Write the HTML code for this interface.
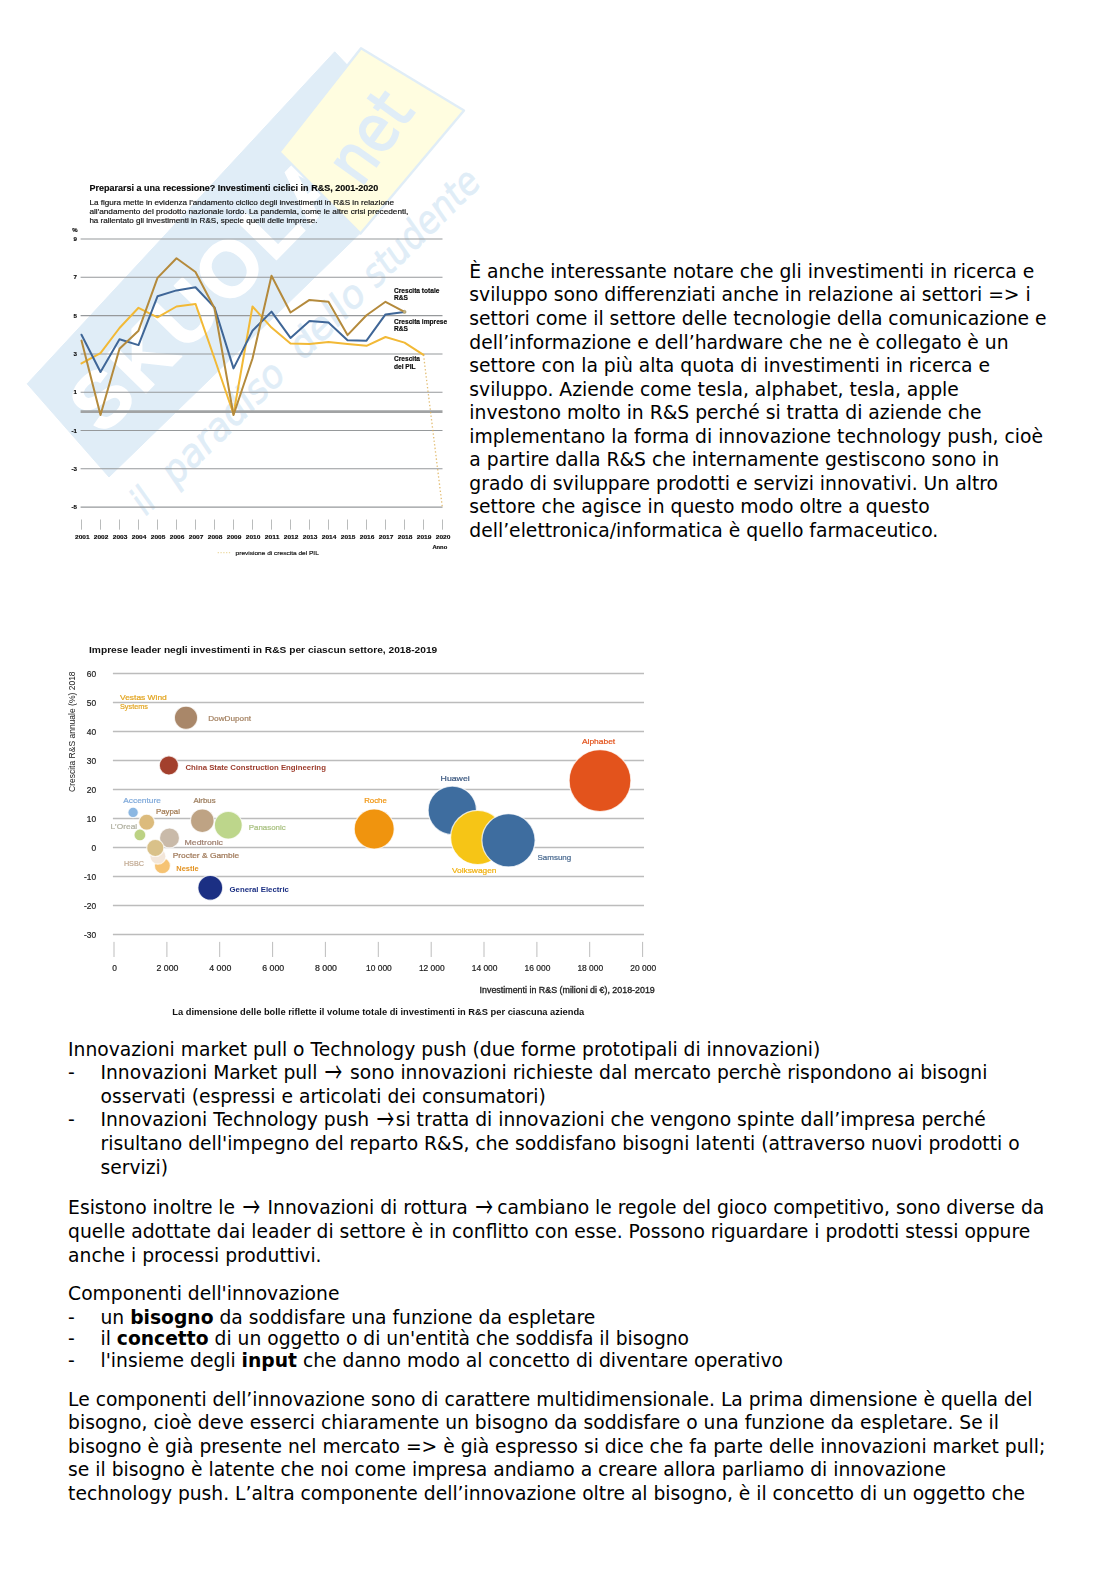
<!DOCTYPE html>
<html lang="it"><head><meta charset="utf-8"><title>Innovazione</title>
<style>
html,body{margin:0;padding:0;background:#fff}
body{width:1116px;height:1579px;position:relative;overflow:hidden;font-family:"DejaVu Sans","Liberation Sans",sans-serif;color:#000}
.l{position:absolute;white-space:nowrap;font-size:18.72px;line-height:24.0px;height:24.0px;letter-spacing:0}
.l b{font-weight:bold}
.ar{font-family:"Noto Sans CJK JP","DejaVu Sans",sans-serif;display:inline-block;width:20.6px;text-align:center;font-size:21px;line-height:0;transform:translate(-0.1px,0.7px) scale(0.83,1.36)}
svg{position:absolute;left:0;top:0}
#charts .sh{filter:blur(0.15px)}
#charts .tx{filter:blur(0.4px)}
</style></head><body>
<svg id="wm" width="1116" height="1579" viewBox="0 0 1116 1579">
<polygon points='27.2,383.8 334.7,51.8 352,70 372,150 362,231.5 109,477' fill='#e0edf7' stroke='#e0edf7' stroke-width='1' stroke-linejoin='round'/>
<g transform='translate(27.2,383.8) rotate(-45.6)'><text x='15' y='91' font-size='79' textLength='352' lengthAdjust='spacing' style='font-family:"Liberation Sans",sans-serif;font-weight:bold;fill:#fff;stroke:#fff;stroke-width:1.5;stroke-linejoin:round'>SKUOLA</text></g>
<polygon points='279.5,152 361,48.3 464,110.5 360.5,233.5' fill='#fffde0' stroke='#e0edf7' stroke-width='2.4' stroke-linejoin='round'/>
<g transform='translate(361,188) rotate(-54.5)'><text x='0' y='0' font-size='66' textLength='94' lengthAdjust='spacingAndGlyphs' style='font-family:"DejaVu Sans",sans-serif;fill:#e0edf7;stroke:#e0edf7;stroke-width:1.8'>net</text></g>
<g transform='translate(138,524) rotate(-44.6)' font-size='38' style='font-family:"DejaVu Sans",sans-serif;font-style:oblique;fill:#e0edf7;stroke:#e0edf7;stroke-width:0.7'><text x='11' y='0' textLength='17' lengthAdjust='spacingAndGlyphs'>il</text><text x='53' y='0' textLength='157' lengthAdjust='spacingAndGlyphs'>paradiso</text><text x='232' y='0' textLength='92' lengthAdjust='spacingAndGlyphs'>dello</text><text x='335' y='0' textLength='149' lengthAdjust='spacingAndGlyphs'>studente</text></g>
</svg>
<svg id="charts" width="1116" height="1579" viewBox="0 0 1116 1579">
<g id="chart1">
<g class="sh">
<line x1='80.6' x2='442.5' y1='239.0' y2='239.0' stroke='#96999b' stroke-width='1.05'/>
<line x1='80.6' x2='442.5' y1='277.2' y2='277.2' stroke='#96999b' stroke-width='1.05'/>
<line x1='80.6' x2='442.5' y1='315.6' y2='315.6' stroke='#96999b' stroke-width='1.05'/>
<line x1='80.6' x2='442.5' y1='353.9' y2='353.9' stroke='#96999b' stroke-width='1.05'/>
<line x1='80.6' x2='442.5' y1='392.2' y2='392.2' stroke='#96999b' stroke-width='1.05'/>
<line x1='80.6' x2='442.5' y1='430.4' y2='430.4' stroke='#96999b' stroke-width='1.05'/>
<line x1='80.6' x2='442.5' y1='468.8' y2='468.8' stroke='#96999b' stroke-width='1.05'/>
<line x1='80.6' x2='442.5' y1='507.1' y2='507.1' stroke='#96999b' stroke-width='1.05'/>
<line x1='80.6' x2='442.5' y1='411.6' y2='411.6' stroke='#a1a3a4' stroke-width='2.7'/>
<polyline points='81.5,363.4 100.5,353.1 119.5,328.0 138.5,307.8 157.5,317.3 176.5,306.5 195.5,303.9 214.5,358.5 233.5,414.0 252.5,306.5 271.5,327.6 290.5,343.6 309.5,343.9 328.5,342.0 347.5,343.9 366.5,345.8 385.5,337.0 404.5,342.6 423.5,354.8' fill='none' stroke='#f2b936' stroke-width='2.0' stroke-linejoin='round' stroke-linecap='round'/>
<polyline points='81.5,334.7 100.5,372.0 119.5,339.3 138.5,345.1 157.5,296.3 176.5,290.4 195.5,287.2 214.5,307.4 233.5,368.4 252.5,330.7 271.5,311.6 290.5,337.9 309.5,321.0 328.5,322.5 347.5,340.2 366.5,340.7 385.5,314.4 404.5,311.9' fill='none' stroke='#3f6697' stroke-width='2.0' stroke-linejoin='round' stroke-linecap='round'/>
<polyline points='81.5,340.6 100.5,415.0 119.5,348.7 138.5,330.7 157.5,277.9 176.5,258.2 195.5,272.0 214.5,308.3 233.5,415.0 252.5,358.5 271.5,275.8 290.5,312.5 309.5,299.9 328.5,301.8 347.5,335.1 366.5,315.3 385.5,301.8 404.5,311.9' fill='none' stroke='#b48a3c' stroke-width='2.0' stroke-linejoin='round' stroke-linecap='round'/>
<line x1='423.5' y1='354.8' x2='442.3' y2='507' stroke='#dcae52' stroke-opacity='0.8' stroke-width='1.3' stroke-dasharray='1.4 2.2'/>
<circle cx='404.5' cy='311.9' r='1.6' fill='#c9b27a' stroke='#8a8a6a' stroke-width='0.5'/>
<line x1='81.5' x2='81.5' y1='519.5' y2='529.7' stroke='#8c8e8f' stroke-width='0.6'/>
<line x1='100.5' x2='100.5' y1='519.5' y2='529.7' stroke='#8c8e8f' stroke-width='0.6'/>
<line x1='119.5' x2='119.5' y1='519.5' y2='529.7' stroke='#8c8e8f' stroke-width='0.6'/>
<line x1='138.5' x2='138.5' y1='519.5' y2='529.7' stroke='#8c8e8f' stroke-width='0.6'/>
<line x1='157.5' x2='157.5' y1='519.5' y2='529.7' stroke='#8c8e8f' stroke-width='0.6'/>
<line x1='176.5' x2='176.5' y1='519.5' y2='529.7' stroke='#8c8e8f' stroke-width='0.6'/>
<line x1='195.5' x2='195.5' y1='519.5' y2='529.7' stroke='#8c8e8f' stroke-width='0.6'/>
<line x1='214.5' x2='214.5' y1='519.5' y2='529.7' stroke='#8c8e8f' stroke-width='0.6'/>
<line x1='233.5' x2='233.5' y1='519.5' y2='529.7' stroke='#8c8e8f' stroke-width='0.6'/>
<line x1='252.5' x2='252.5' y1='519.5' y2='529.7' stroke='#8c8e8f' stroke-width='0.6'/>
<line x1='271.5' x2='271.5' y1='519.5' y2='529.7' stroke='#8c8e8f' stroke-width='0.6'/>
<line x1='290.5' x2='290.5' y1='519.5' y2='529.7' stroke='#8c8e8f' stroke-width='0.6'/>
<line x1='309.5' x2='309.5' y1='519.5' y2='529.7' stroke='#8c8e8f' stroke-width='0.6'/>
<line x1='328.5' x2='328.5' y1='519.5' y2='529.7' stroke='#8c8e8f' stroke-width='0.6'/>
<line x1='347.5' x2='347.5' y1='519.5' y2='529.7' stroke='#8c8e8f' stroke-width='0.6'/>
<line x1='366.5' x2='366.5' y1='519.5' y2='529.7' stroke='#8c8e8f' stroke-width='0.6'/>
<line x1='385.5' x2='385.5' y1='519.5' y2='529.7' stroke='#8c8e8f' stroke-width='0.6'/>
<line x1='404.5' x2='404.5' y1='519.5' y2='529.7' stroke='#8c8e8f' stroke-width='0.6'/>
<line x1='423.5' x2='423.5' y1='519.5' y2='529.7' stroke='#8c8e8f' stroke-width='0.6'/>
<line x1='442.5' x2='442.5' y1='519.5' y2='529.7' stroke='#8c8e8f' stroke-width='0.6'/>
<line x1='217.7' x2='231.3' y1='552.6' y2='552.6' stroke='#ecd9a0' stroke-width='1.1' stroke-dasharray='1.2 1.6'/>
</g>
<g class="tx">
<text x='89.4' y='191.0' font-size='8.20' text-anchor='start' style='font-family:"Liberation Sans",sans-serif;font-weight:bold;fill:#080808;stroke:#080808;stroke-width:0.15;' textLength='289.0' lengthAdjust='spacingAndGlyphs'>Prepararsi a una recessione? Investimenti ciclici in R&amp;S, 2001-2020</text>
<text x='89.4' y='204.6' font-size='7.30' text-anchor='start' style='font-family:"Liberation Sans",sans-serif;fill:#141414;stroke:#141414;stroke-width:0.18;' textLength='304.6' lengthAdjust='spacingAndGlyphs'>La figura mette in evidenza l'andamento ciclico degli investimenti in R&amp;S in relazione</text>
<text x='89.4' y='213.6' font-size='7.30' text-anchor='start' style='font-family:"Liberation Sans",sans-serif;fill:#141414;stroke:#141414;stroke-width:0.18;' textLength='319.0' lengthAdjust='spacingAndGlyphs'>all'andamento del prodotto nazionale lordo. La pandemia, come le altre crisi precedenti,</text>
<text x='89.4' y='222.5' font-size='7.30' text-anchor='start' style='font-family:"Liberation Sans",sans-serif;fill:#141414;stroke:#141414;stroke-width:0.18;' textLength='228.0' lengthAdjust='spacingAndGlyphs'>ha rallentato gli investimenti in R&amp;S, specie quelli delle imprese.</text>
<text x='72.3' y='231.5' font-size='6.00' text-anchor='start' style='font-family:"Liberation Sans",sans-serif;font-weight:bold;fill:#080808;stroke:#080808;stroke-width:0.15;'>%</text>
<text x='77.0' y='241.2' font-size='6.20' text-anchor='end' style='font-family:"Liberation Sans",sans-serif;font-weight:bold;fill:#080808;stroke:#080808;stroke-width:0.15;'>9</text>
<text x='77.0' y='279.4' font-size='6.20' text-anchor='end' style='font-family:"Liberation Sans",sans-serif;font-weight:bold;fill:#080808;stroke:#080808;stroke-width:0.15;'>7</text>
<text x='77.0' y='317.8' font-size='6.20' text-anchor='end' style='font-family:"Liberation Sans",sans-serif;font-weight:bold;fill:#080808;stroke:#080808;stroke-width:0.15;'>5</text>
<text x='77.0' y='356.1' font-size='6.20' text-anchor='end' style='font-family:"Liberation Sans",sans-serif;font-weight:bold;fill:#080808;stroke:#080808;stroke-width:0.15;'>3</text>
<text x='77.0' y='394.4' font-size='6.20' text-anchor='end' style='font-family:"Liberation Sans",sans-serif;font-weight:bold;fill:#080808;stroke:#080808;stroke-width:0.15;'>1</text>
<text x='77.0' y='432.6' font-size='6.20' text-anchor='end' style='font-family:"Liberation Sans",sans-serif;font-weight:bold;fill:#080808;stroke:#080808;stroke-width:0.15;'>-1</text>
<text x='77.0' y='470.9' font-size='6.20' text-anchor='end' style='font-family:"Liberation Sans",sans-serif;font-weight:bold;fill:#080808;stroke:#080808;stroke-width:0.15;'>-3</text>
<text x='77.0' y='509.2' font-size='6.20' text-anchor='end' style='font-family:"Liberation Sans",sans-serif;font-weight:bold;fill:#080808;stroke:#080808;stroke-width:0.15;'>-5</text>
<text x='82.3' y='539.2' font-size='6.00' text-anchor='middle' style='font-family:"Liberation Sans",sans-serif;font-weight:bold;fill:#080808;stroke:#080808;stroke-width:0.15;' textLength='14.6' lengthAdjust='spacingAndGlyphs'>2001</text>
<text x='101.1' y='539.2' font-size='6.00' text-anchor='middle' style='font-family:"Liberation Sans",sans-serif;font-weight:bold;fill:#080808;stroke:#080808;stroke-width:0.15;' textLength='14.6' lengthAdjust='spacingAndGlyphs'>2002</text>
<text x='120.1' y='539.2' font-size='6.00' text-anchor='middle' style='font-family:"Liberation Sans",sans-serif;font-weight:bold;fill:#080808;stroke:#080808;stroke-width:0.15;' textLength='14.6' lengthAdjust='spacingAndGlyphs'>2003</text>
<text x='139.1' y='539.2' font-size='6.00' text-anchor='middle' style='font-family:"Liberation Sans",sans-serif;font-weight:bold;fill:#080808;stroke:#080808;stroke-width:0.15;' textLength='14.6' lengthAdjust='spacingAndGlyphs'>2004</text>
<text x='158.1' y='539.2' font-size='6.00' text-anchor='middle' style='font-family:"Liberation Sans",sans-serif;font-weight:bold;fill:#080808;stroke:#080808;stroke-width:0.15;' textLength='14.6' lengthAdjust='spacingAndGlyphs'>2005</text>
<text x='177.1' y='539.2' font-size='6.00' text-anchor='middle' style='font-family:"Liberation Sans",sans-serif;font-weight:bold;fill:#080808;stroke:#080808;stroke-width:0.15;' textLength='14.6' lengthAdjust='spacingAndGlyphs'>2006</text>
<text x='196.1' y='539.2' font-size='6.00' text-anchor='middle' style='font-family:"Liberation Sans",sans-serif;font-weight:bold;fill:#080808;stroke:#080808;stroke-width:0.15;' textLength='14.6' lengthAdjust='spacingAndGlyphs'>2007</text>
<text x='215.1' y='539.2' font-size='6.00' text-anchor='middle' style='font-family:"Liberation Sans",sans-serif;font-weight:bold;fill:#080808;stroke:#080808;stroke-width:0.15;' textLength='14.6' lengthAdjust='spacingAndGlyphs'>2008</text>
<text x='234.1' y='539.2' font-size='6.00' text-anchor='middle' style='font-family:"Liberation Sans",sans-serif;font-weight:bold;fill:#080808;stroke:#080808;stroke-width:0.15;' textLength='14.6' lengthAdjust='spacingAndGlyphs'>2009</text>
<text x='253.1' y='539.2' font-size='6.00' text-anchor='middle' style='font-family:"Liberation Sans",sans-serif;font-weight:bold;fill:#080808;stroke:#080808;stroke-width:0.15;' textLength='14.6' lengthAdjust='spacingAndGlyphs'>2010</text>
<text x='272.1' y='539.2' font-size='6.00' text-anchor='middle' style='font-family:"Liberation Sans",sans-serif;font-weight:bold;fill:#080808;stroke:#080808;stroke-width:0.15;' textLength='14.6' lengthAdjust='spacingAndGlyphs'>2011</text>
<text x='291.1' y='539.2' font-size='6.00' text-anchor='middle' style='font-family:"Liberation Sans",sans-serif;font-weight:bold;fill:#080808;stroke:#080808;stroke-width:0.15;' textLength='14.6' lengthAdjust='spacingAndGlyphs'>2012</text>
<text x='310.1' y='539.2' font-size='6.00' text-anchor='middle' style='font-family:"Liberation Sans",sans-serif;font-weight:bold;fill:#080808;stroke:#080808;stroke-width:0.15;' textLength='14.6' lengthAdjust='spacingAndGlyphs'>2013</text>
<text x='329.1' y='539.2' font-size='6.00' text-anchor='middle' style='font-family:"Liberation Sans",sans-serif;font-weight:bold;fill:#080808;stroke:#080808;stroke-width:0.15;' textLength='14.6' lengthAdjust='spacingAndGlyphs'>2014</text>
<text x='348.1' y='539.2' font-size='6.00' text-anchor='middle' style='font-family:"Liberation Sans",sans-serif;font-weight:bold;fill:#080808;stroke:#080808;stroke-width:0.15;' textLength='14.6' lengthAdjust='spacingAndGlyphs'>2015</text>
<text x='367.1' y='539.2' font-size='6.00' text-anchor='middle' style='font-family:"Liberation Sans",sans-serif;font-weight:bold;fill:#080808;stroke:#080808;stroke-width:0.15;' textLength='14.6' lengthAdjust='spacingAndGlyphs'>2016</text>
<text x='386.1' y='539.2' font-size='6.00' text-anchor='middle' style='font-family:"Liberation Sans",sans-serif;font-weight:bold;fill:#080808;stroke:#080808;stroke-width:0.15;' textLength='14.6' lengthAdjust='spacingAndGlyphs'>2017</text>
<text x='405.1' y='539.2' font-size='6.00' text-anchor='middle' style='font-family:"Liberation Sans",sans-serif;font-weight:bold;fill:#080808;stroke:#080808;stroke-width:0.15;' textLength='14.6' lengthAdjust='spacingAndGlyphs'>2018</text>
<text x='424.1' y='539.2' font-size='6.00' text-anchor='middle' style='font-family:"Liberation Sans",sans-serif;font-weight:bold;fill:#080808;stroke:#080808;stroke-width:0.15;' textLength='14.6' lengthAdjust='spacingAndGlyphs'>2019</text>
<text x='443.1' y='539.2' font-size='6.00' text-anchor='middle' style='font-family:"Liberation Sans",sans-serif;font-weight:bold;fill:#080808;stroke:#080808;stroke-width:0.15;' textLength='14.6' lengthAdjust='spacingAndGlyphs'>2020</text>
<text x='447.2' y='548.5' font-size='5.80' text-anchor='end' style='font-family:"Liberation Sans",sans-serif;font-weight:bold;fill:#080808;stroke:#080808;stroke-width:0.15;'>Anno</text>
<text x='235.6' y='555.0' font-size='6.10' text-anchor='start' style='font-family:"Liberation Sans",sans-serif;fill:#141414;stroke:#141414;stroke-width:0.18;' textLength='83.2' lengthAdjust='spacingAndGlyphs'>previsione di crescita del PIL</text>
<text x='394.0' y='293.1' font-size='6.60' text-anchor='start' style='font-family:"Liberation Sans",sans-serif;font-weight:bold;fill:#080808;stroke:#080808;stroke-width:0.15;'>Crescita totale</text>
<text x='394.0' y='300.3' font-size='6.60' text-anchor='start' style='font-family:"Liberation Sans",sans-serif;font-weight:bold;fill:#080808;stroke:#080808;stroke-width:0.15;'>R&amp;S</text>
<text x='394.0' y='323.8' font-size='6.60' text-anchor='start' style='font-family:"Liberation Sans",sans-serif;font-weight:bold;fill:#080808;stroke:#080808;stroke-width:0.15;'>Crescita imprese</text>
<text x='394.0' y='331.0' font-size='6.60' text-anchor='start' style='font-family:"Liberation Sans",sans-serif;font-weight:bold;fill:#080808;stroke:#080808;stroke-width:0.15;'>R&amp;S</text>
<text x='394.0' y='361.4' font-size='6.60' text-anchor='start' style='font-family:"Liberation Sans",sans-serif;font-weight:bold;fill:#080808;stroke:#080808;stroke-width:0.15;'>Crescita</text>
<text x='394.0' y='369.0' font-size='6.60' text-anchor='start' style='font-family:"Liberation Sans",sans-serif;font-weight:bold;fill:#080808;stroke:#080808;stroke-width:0.15;'>del PIL</text>
</g>
</g>
<g id="chart2">
<g class="sh">
<line x1='112.9' x2='644' y1='934.5' y2='934.5' stroke='#bcbcbc' stroke-width='1.3'/>
<line x1='112.9' x2='644' y1='905.5' y2='905.5' stroke='#bcbcbc' stroke-width='1.3'/>
<line x1='112.9' x2='644' y1='876.5' y2='876.5' stroke='#bcbcbc' stroke-width='1.3'/>
<line x1='112.9' x2='644' y1='847.5' y2='847.5' stroke='#bcbcbc' stroke-width='1.3'/>
<line x1='112.9' x2='644' y1='818.5' y2='818.5' stroke='#bcbcbc' stroke-width='1.3'/>
<line x1='112.9' x2='644' y1='789.5' y2='789.5' stroke='#bcbcbc' stroke-width='1.3'/>
<line x1='112.9' x2='644' y1='760.5' y2='760.5' stroke='#bcbcbc' stroke-width='1.3'/>
<line x1='112.9' x2='644' y1='731.5' y2='731.5' stroke='#bcbcbc' stroke-width='1.3'/>
<line x1='112.9' x2='644' y1='702.5' y2='702.5' stroke='#bcbcbc' stroke-width='1.3'/>
<line x1='112.9' x2='644' y1='673.5' y2='673.5' stroke='#bcbcbc' stroke-width='1.3'/>
<line x1='114.0' x2='114.0' y1='941.9' y2='957' stroke='#b5b5b5' stroke-width='0.9'/>
<line x1='166.9' x2='166.9' y1='941.9' y2='957' stroke='#b5b5b5' stroke-width='0.9'/>
<line x1='219.7' x2='219.7' y1='941.9' y2='957' stroke='#b5b5b5' stroke-width='0.9'/>
<line x1='272.6' x2='272.6' y1='941.9' y2='957' stroke='#b5b5b5' stroke-width='0.9'/>
<line x1='325.4' x2='325.4' y1='941.9' y2='957' stroke='#b5b5b5' stroke-width='0.9'/>
<line x1='378.3' x2='378.3' y1='941.9' y2='957' stroke='#b5b5b5' stroke-width='0.9'/>
<line x1='431.2' x2='431.2' y1='941.9' y2='957' stroke='#b5b5b5' stroke-width='0.9'/>
<line x1='484.0' x2='484.0' y1='941.9' y2='957' stroke='#b5b5b5' stroke-width='0.9'/>
<line x1='536.9' x2='536.9' y1='941.9' y2='957' stroke='#b5b5b5' stroke-width='0.9'/>
<line x1='589.7' x2='589.7' y1='941.9' y2='957' stroke='#b5b5b5' stroke-width='0.9'/>
<line x1='642.6' x2='642.6' y1='941.9' y2='957' stroke='#b5b5b5' stroke-width='0.9'/>
<circle cx='186.0' cy='717.8' r='11.6' fill='#a98769' stroke='#fff' stroke-opacity='0.75' stroke-width='1.2'/>
<circle cx='168.9' cy='765.4' r='9.6' fill='#a3402d' stroke='#fff' stroke-opacity='0.75' stroke-width='1.2'/>
<circle cx='133.1' cy='812.4' r='5.2' fill='#8bb7e2' stroke='#fff' stroke-opacity='0.75' stroke-width='1.2'/>
<circle cx='139.9' cy='834.9' r='5.9' fill='#bcd284' stroke='#fff' stroke-opacity='0.75' stroke-width='1.2'/>
<circle cx='146.7' cy='822.2' r='8.0' fill='#dcbb7c' stroke='#fff' stroke-opacity='0.75' stroke-width='1.2'/>
<circle cx='202.3' cy='820.7' r='11.8' fill='#bea384' stroke='#fff' stroke-opacity='0.75' stroke-width='1.2'/>
<circle cx='228.3' cy='825.2' r='13.9' fill='#bdd68b' stroke='#fff' stroke-opacity='0.75' stroke-width='1.2'/>
<circle cx='169.5' cy='837.9' r='10.0' fill='#c9baa9' stroke='#fff' stroke-opacity='0.75' stroke-width='1.2'/>
<circle cx='162.4' cy='865.7' r='8.0' fill='#f6c373' stroke='#fff' stroke-opacity='0.75' stroke-width='1.2'/>
<circle cx='157.9' cy='856.2' r='8.0' fill='#f3e6d9' stroke='#fff' stroke-opacity='0.75' stroke-width='1.2'/>
<circle cx='155.3' cy='847.9' r='8.6' fill='#d9c189' stroke='#fff' stroke-opacity='0.75' stroke-width='1.2'/>
<circle cx='210.3' cy='887.8' r='12.4' fill='#1b2f83' stroke='#fff' stroke-opacity='0.75' stroke-width='1.2'/>
<circle cx='374.2' cy='829.0' r='20.0' fill='#f0940e' stroke='#fff' stroke-opacity='0.75' stroke-width='1.2'/>
<circle cx='452.3' cy='810.3' r='24.2' fill='#3e6d9f' stroke='#fff' stroke-opacity='0.75' stroke-width='1.2'/>
<circle cx='477.7' cy='837.4' r='27.1' fill='#f6c516' stroke='#fff' stroke-opacity='0.75' stroke-width='1.2'/>
<circle cx='508.5' cy='840.3' r='26.6' fill='#3e6d9f' stroke='#fff' stroke-opacity='0.75' stroke-width='1.2'/>
<circle cx='600.0' cy='780.6' r='30.9' fill='#e3531c' stroke='#fff' stroke-opacity='0.75' stroke-width='1.2'/>
</g>
<g class="tx">
<text x='89.0' y='653.4' font-size='9.00' text-anchor='start' style='font-family:"Liberation Sans",sans-serif;font-weight:bold;fill:#111;' textLength='348.3' lengthAdjust='spacingAndGlyphs'>Imprese leader negli investimenti in R&amp;S per ciascun settore, 2018-2019</text>
<text x='96.2' y='937.5' font-size='8.40' text-anchor='end' style='font-family:"Liberation Sans",sans-serif;fill:#222;stroke:#222;stroke-width:0.2;'>-30</text>
<text x='96.2' y='908.5' font-size='8.40' text-anchor='end' style='font-family:"Liberation Sans",sans-serif;fill:#222;stroke:#222;stroke-width:0.2;'>-20</text>
<text x='96.2' y='879.5' font-size='8.40' text-anchor='end' style='font-family:"Liberation Sans",sans-serif;fill:#222;stroke:#222;stroke-width:0.2;'>-10</text>
<text x='96.2' y='850.5' font-size='8.40' text-anchor='end' style='font-family:"Liberation Sans",sans-serif;fill:#222;stroke:#222;stroke-width:0.2;'>0</text>
<text x='96.2' y='821.5' font-size='8.40' text-anchor='end' style='font-family:"Liberation Sans",sans-serif;fill:#222;stroke:#222;stroke-width:0.2;'>10</text>
<text x='96.2' y='792.5' font-size='8.40' text-anchor='end' style='font-family:"Liberation Sans",sans-serif;fill:#222;stroke:#222;stroke-width:0.2;'>20</text>
<text x='96.2' y='763.5' font-size='8.40' text-anchor='end' style='font-family:"Liberation Sans",sans-serif;fill:#222;stroke:#222;stroke-width:0.2;'>30</text>
<text x='96.2' y='734.5' font-size='8.40' text-anchor='end' style='font-family:"Liberation Sans",sans-serif;fill:#222;stroke:#222;stroke-width:0.2;'>40</text>
<text x='96.2' y='705.5' font-size='8.40' text-anchor='end' style='font-family:"Liberation Sans",sans-serif;fill:#222;stroke:#222;stroke-width:0.2;'>50</text>
<text x='96.2' y='676.5' font-size='8.40' text-anchor='end' style='font-family:"Liberation Sans",sans-serif;fill:#222;stroke:#222;stroke-width:0.2;'>60</text>
<text x='114.6' y='971.4' font-size='8.40' text-anchor='middle' style='font-family:"Liberation Sans",sans-serif;fill:#222;stroke:#222;stroke-width:0.2;'>0</text>
<text x='167.5' y='971.4' font-size='8.40' text-anchor='middle' style='font-family:"Liberation Sans",sans-serif;fill:#222;stroke:#222;stroke-width:0.2;' textLength='22.0' lengthAdjust='spacingAndGlyphs'>2 000</text>
<text x='220.3' y='971.4' font-size='8.40' text-anchor='middle' style='font-family:"Liberation Sans",sans-serif;fill:#222;stroke:#222;stroke-width:0.2;' textLength='22.0' lengthAdjust='spacingAndGlyphs'>4 000</text>
<text x='273.2' y='971.4' font-size='8.40' text-anchor='middle' style='font-family:"Liberation Sans",sans-serif;fill:#222;stroke:#222;stroke-width:0.2;' textLength='22.0' lengthAdjust='spacingAndGlyphs'>6 000</text>
<text x='326.0' y='971.4' font-size='8.40' text-anchor='middle' style='font-family:"Liberation Sans",sans-serif;fill:#222;stroke:#222;stroke-width:0.2;' textLength='22.0' lengthAdjust='spacingAndGlyphs'>8 000</text>
<text x='378.9' y='971.4' font-size='8.40' text-anchor='middle' style='font-family:"Liberation Sans",sans-serif;fill:#222;stroke:#222;stroke-width:0.2;' textLength='25.8' lengthAdjust='spacingAndGlyphs'>10 000</text>
<text x='431.8' y='971.4' font-size='8.40' text-anchor='middle' style='font-family:"Liberation Sans",sans-serif;fill:#222;stroke:#222;stroke-width:0.2;' textLength='25.8' lengthAdjust='spacingAndGlyphs'>12 000</text>
<text x='484.6' y='971.4' font-size='8.40' text-anchor='middle' style='font-family:"Liberation Sans",sans-serif;fill:#222;stroke:#222;stroke-width:0.2;' textLength='25.8' lengthAdjust='spacingAndGlyphs'>14 000</text>
<text x='537.5' y='971.4' font-size='8.40' text-anchor='middle' style='font-family:"Liberation Sans",sans-serif;fill:#222;stroke:#222;stroke-width:0.2;' textLength='25.8' lengthAdjust='spacingAndGlyphs'>16 000</text>
<text x='590.3' y='971.4' font-size='8.40' text-anchor='middle' style='font-family:"Liberation Sans",sans-serif;fill:#222;stroke:#222;stroke-width:0.2;' textLength='25.8' lengthAdjust='spacingAndGlyphs'>18 000</text>
<text x='643.2' y='971.4' font-size='8.40' text-anchor='middle' style='font-family:"Liberation Sans",sans-serif;fill:#222;stroke:#222;stroke-width:0.2;' textLength='25.8' lengthAdjust='spacingAndGlyphs'>20 000</text>
<text transform='translate(75.2,792) rotate(-90)' font-size='8.3' textLength='120.6' lengthAdjust='spacingAndGlyphs' style='font-family:"Liberation Sans",sans-serif;fill:#222'>Crescita R&amp;S annuale (%) 2018</text>
<text x='654.8' y='992.6' font-size='8.20' text-anchor='end' style='font-family:"Liberation Sans",sans-serif;fill:#222;stroke:#222;stroke-width:0.3;' textLength='175.2' lengthAdjust='spacingAndGlyphs'>Investimenti in R&amp;S (milioni di €), 2018-2019</text>
<text x='172.3' y='1014.8' font-size='8.20' text-anchor='start' style='font-family:"Liberation Sans",sans-serif;font-weight:bold;fill:#111;' textLength='412.0' lengthAdjust='spacingAndGlyphs'>La dimensione delle bolle riflette il volume totale di investimenti in R&amp;S per ciascuna azienda</text>
<text x='120.0' y='700.2' font-size='7.80' text-anchor='start' style='font-family:"Liberation Sans",sans-serif;fill:#e2a522;stroke:#e2a522;stroke-width:0.22;' textLength='46.8' lengthAdjust='spacingAndGlyphs'>Vestas Wind</text>
<text x='120.0' y='708.5' font-size='7.80' text-anchor='start' style='font-family:"Liberation Sans",sans-serif;fill:#e2a522;stroke:#e2a522;stroke-width:0.22;' textLength='28.0' lengthAdjust='spacingAndGlyphs'>Systems</text>
<text x='208.2' y='720.6' font-size='7.80' text-anchor='start' style='font-family:"Liberation Sans",sans-serif;fill:#a58363;stroke:#a58363;stroke-width:0.22;' textLength='42.8' lengthAdjust='spacingAndGlyphs'>DowDupont</text>
<text x='185.4' y='769.7' font-size='7.80' text-anchor='start' style='font-family:"Liberation Sans",sans-serif;fill:#9c3b2b;font-weight:bold;' textLength='140.5' lengthAdjust='spacingAndGlyphs'>China State Construction Engineering</text>
<text x='123.3' y='802.8' font-size='7.80' text-anchor='start' style='font-family:"Liberation Sans",sans-serif;fill:#7fa9da;stroke:#7fa9da;stroke-width:0.22;' textLength='37.6' lengthAdjust='spacingAndGlyphs'>Accenture</text>
<text x='155.9' y='813.8' font-size='7.80' text-anchor='start' style='font-family:"Liberation Sans",sans-serif;fill:#a27a52;stroke:#a27a52;stroke-width:0.22;' textLength='24.1' lengthAdjust='spacingAndGlyphs'>Paypal</text>
<text x='110.6' y='828.5' font-size='7.80' text-anchor='start' style='font-family:"Liberation Sans",sans-serif;fill:#b1b1a1;stroke:#b1b1a1;stroke-width:0.22;' textLength='26.6' lengthAdjust='spacingAndGlyphs'>L’Oreal</text>
<text x='193.4' y='802.8' font-size='7.80' text-anchor='start' style='font-family:"Liberation Sans",sans-serif;fill:#9b7b5b;stroke:#9b7b5b;stroke-width:0.22;' textLength='22.2' lengthAdjust='spacingAndGlyphs'>Airbus</text>
<text x='248.7' y='830.0' font-size='7.80' text-anchor='start' style='font-family:"Liberation Sans",sans-serif;fill:#a9c181;stroke:#a9c181;stroke-width:0.22;' textLength='37.0' lengthAdjust='spacingAndGlyphs'>Panasonic</text>
<text x='184.5' y='845.1' font-size='7.80' text-anchor='start' style='font-family:"Liberation Sans",sans-serif;fill:#a08171;stroke:#a08171;stroke-width:0.22;' textLength='38.5' lengthAdjust='spacingAndGlyphs'>Medtronic</text>
<text x='123.9' y='865.8' font-size='7.80' text-anchor='start' style='font-family:"Liberation Sans",sans-serif;fill:#c1a991;stroke:#c1a991;stroke-width:0.22;' textLength='20.1' lengthAdjust='spacingAndGlyphs'>HSBC</text>
<text x='172.7' y='857.5' font-size='7.80' text-anchor='start' style='font-family:"Liberation Sans",sans-serif;fill:#a07959;stroke:#a07959;stroke-width:0.22;' textLength='66.5' lengthAdjust='spacingAndGlyphs'>Procter &amp; Gamble</text>
<text x='176.3' y='870.8' font-size='7.80' text-anchor='start' style='font-family:"Liberation Sans",sans-serif;fill:#e39322;font-weight:bold;' textLength='22.4' lengthAdjust='spacingAndGlyphs'>Nestle</text>
<text x='229.5' y='892.4' font-size='7.80' text-anchor='start' style='font-family:"Liberation Sans",sans-serif;fill:#1b2f83;font-weight:bold;' textLength='59.4' lengthAdjust='spacingAndGlyphs'>General Electric</text>
<text x='364.2' y='803.4' font-size='7.80' text-anchor='start' style='font-family:"Liberation Sans",sans-serif;fill:#f0940e;stroke:#f0940e;stroke-width:0.22;' textLength='22.6' lengthAdjust='spacingAndGlyphs'>Roche</text>
<text x='440.6' y='781.2' font-size='7.80' text-anchor='start' style='font-family:"Liberation Sans",sans-serif;fill:#3f5b82;stroke:#3f5b82;stroke-width:0.22;' textLength='29.1' lengthAdjust='spacingAndGlyphs'>Huawei</text>
<text x='451.9' y='872.8' font-size='7.80' text-anchor='start' style='font-family:"Liberation Sans",sans-serif;fill:#f1b111;stroke:#f1b111;stroke-width:0.22;' textLength='44.6' lengthAdjust='spacingAndGlyphs'>Volkswagen</text>
<text x='537.4' y='859.9' font-size='7.80' text-anchor='start' style='font-family:"Liberation Sans",sans-serif;fill:#4b6b91;stroke:#4b6b91;stroke-width:0.22;' textLength='33.9' lengthAdjust='spacingAndGlyphs'>Samsung</text>
<text x='581.9' y='744.1' font-size='7.80' text-anchor='start' style='font-family:"Liberation Sans",sans-serif;fill:#e3531c;stroke:#e3531c;stroke-width:0.22;' textLength='33.3' lengthAdjust='spacingAndGlyphs'>Alphabet</text>
</g>
</g>
</svg>
<div class='l' style='left:469.30px;top:259.97px;font-size:18.76px'>È anche interessante notare che gli investimenti in ricerca e</div>
<div class='l' style='left:469.30px;top:283.49px;font-size:18.76px'>sviluppo sono differenziati anche in relazione ai settori =&gt; i</div>
<div class='l' style='left:469.30px;top:307.01px;font-size:18.76px'>settori come il settore delle tecnologie della comunicazione e</div>
<div class='l' style='left:469.30px;top:330.53px;font-size:18.76px'>dell’informazione e dell’hardware che ne è collegato è un</div>
<div class='l' style='left:469.30px;top:354.05px;font-size:18.76px'>settore con la più alta quota di investimenti in ricerca e</div>
<div class='l' style='left:469.30px;top:377.57px;font-size:18.76px'>sviluppo. Aziende come tesla, alphabet, tesla, apple</div>
<div class='l' style='left:469.30px;top:401.09px;font-size:18.76px'>investono molto in R&amp;S perché si tratta di aziende che</div>
<div class='l' style='left:469.30px;top:424.61px;font-size:18.76px'>implementano la forma di innovazione technology push, cioè</div>
<div class='l' style='left:469.30px;top:448.13px;font-size:18.76px'>a partire dalla R&amp;S che internamente gestiscono sono in</div>
<div class='l' style='left:469.30px;top:471.65px;font-size:18.76px'>grado di sviluppare prodotti e servizi innovativi. Un altro</div>
<div class='l' style='left:469.30px;top:495.17px;font-size:18.76px'>settore che agisce in questo modo oltre a questo</div>
<div class='l' style='left:469.30px;top:518.69px;font-size:18.76px'>dell’elettronica/informatica è quello farmaceutico.</div>
<div class='l' style='left:68.10px;top:1038.12px'>Innovazioni market pull o Technology push (due forme prototipali di innovazioni)</div>
<div class='l' style='left:68.10px;top:1060.62px'>-</div>
<div class='l' style='left:100.50px;top:1060.62px'>Innovazioni Market pull <span class='ar'>→</span> sono innovazioni richieste dal mercato perchè rispondono ai bisogni</div>
<div class='l' style='left:100.50px;top:1085.12px'>osservati (espressi e articolati dei consumatori)</div>
<div class='l' style='left:68.10px;top:1107.52px'>-</div>
<div class='l' style='left:100.50px;top:1107.52px'>Innovazioni Technology push <span class='ar'>→</span>si tratta di innovazioni che vengono spinte dall’impresa perché</div>
<div class='l' style='left:100.50px;top:1132.12px'>risultano dell'impegno del reparto R&amp;S, che soddisfano bisogni latenti (attraverso nuovi prodotti o</div>
<div class='l' style='left:100.50px;top:1155.72px'>servizi)</div>
<div class='l' style='left:68.10px;top:1195.52px'>Esistono inoltre le <span class='ar'>→</span> Innovazioni di rottura <span class='ar' style='width:17.8px'>→</span> cambiano le regole del gioco competitivo, sono diverse da</div>
<div class='l' style='left:68.10px;top:1219.82px'>quelle adottate dai leader di settore è in conflitto con esse. Possono riguardare i prodotti stessi oppure</div>
<div class='l' style='left:68.10px;top:1243.92px'>anche i processi produttivi.</div>
<div class='l' style='left:68.10px;top:1282.02px'>Componenti dell'innovazione</div>
<div class='l' style='left:68.10px;top:1305.82px'>-</div>
<div class='l' style='left:100.50px;top:1305.82px'>un <b>bisogno</b> da soddisfare una funzione da espletare</div>
<div class='l' style='left:68.10px;top:1326.82px'>-</div>
<div class='l' style='left:100.50px;top:1326.82px'>il <b>concetto</b> di un oggetto o di un'entità che soddisfa il bisogno</div>
<div class='l' style='left:68.10px;top:1348.82px'>-</div>
<div class='l' style='left:100.50px;top:1348.82px'>l'insieme degli <b>input</b> che danno modo al concetto di diventare operativo</div>
<div class='l' style='left:68.10px;top:1388.32px'>Le componenti dell’innovazione sono di carattere multidimensionale. La prima dimensione è quella del</div>
<div class='l' style='left:68.10px;top:1411.02px'>bisogno, cioè deve esserci chiaramente un bisogno da soddisfare o una funzione da espletare. Se il</div>
<div class='l' style='left:68.10px;top:1434.52px'>bisogno è già presente nel mercato =&gt; è già espresso si dice che fa parte delle innovazioni market pull;</div>
<div class='l' style='left:68.10px;top:1457.62px'>se il bisogno è latente che noi come impresa andiamo a creare allora parliamo di innovazione</div>
<div class='l' style='left:68.10px;top:1481.52px'>technology push. L’altra componente dell’innovazione oltre al bisogno, è il concetto di un oggetto che</div>
</body></html>
